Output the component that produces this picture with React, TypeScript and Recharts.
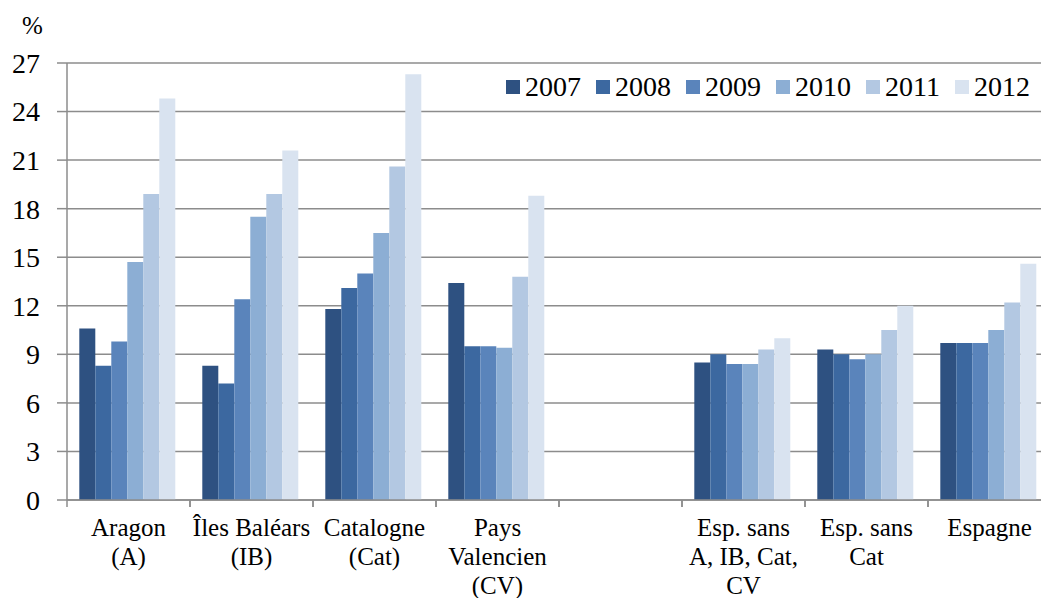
import React from "react";
import {
  BarChart,
  Bar,
  XAxis,
  YAxis,
  CartesianGrid,
  Legend,
  Label,
} from "recharts";

const categories = [
  "Aragon\n(A)",
  "Îles Baléars\n(IB)",
  "Catalogne\n(Cat)",
  "Pays\nValencien\n(CV)",
  "",
  "Esp. sans\nA, IB, Cat,\nCV",
  "Esp. sans\nCat",
  "Espagne",
];

const years = ["2007", "2008", "2009", "2010", "2011", "2012"];

const v2007 = [10.6, 8.3, 11.8, 13.4, null, 8.5, 9.3, 9.7];
const v2008 = [8.3, 7.2, 13.1, 9.5, null, 9.0, 9.0, 9.7];
const v2009 = [9.8, 12.4, 14.0, 9.5, null, 8.4, 8.7, 9.7];
const v2010 = [14.7, 17.5, 16.5, 9.4, null, 8.4, 9.0, 10.5];
const v2011 = [18.9, 18.9, 20.6, 13.8, null, 9.3, 10.5, 12.2];
const v2012 = [24.8, 21.6, 26.3, 18.8, null, 10.0, 12.0, 14.6];

const yTicks = [0, 3, 6, 9, 12, 15, 18, 21, 24, 27];

const colors = ["#2E5181", "#3C68A0", "#5A84BB", "#8CAED4", "#B3C8E2", "#D9E3F0"];

const seriesValues = [v2007, v2008, v2009, v2010, v2011, v2012];

const data = categories.map((cat, i) => {
  const row: Record<string, any> = { cat };
  years.forEach((y, k) => {
    row[y] = seriesValues[k][i];
  });
  return row;
});

const FONT = "Liberation Serif, Tinos, DejaVu Serif, Noto Serif, Times New Roman, serif";
const CHART_W = 1060;
const CHART_H = 598;
const M_LEFT = 0;
const Y_W = 67;
const M_RIGHT = 9;
const M_TOP = 63;
const X_H = 98;
const PLOT_BOTTOM = CHART_H - X_H;
const BAND = (CHART_W - M_LEFT - Y_W - M_RIGHT) / categories.length;
const GRID = "#8C8C8C";

function CategoryTick(props: any) {
  const { x, payload } = props;
  const lines = String(payload.value).split("\n");
  return (
    <g>
      <line x1={x - BAND / 2} x2={x - BAND / 2} y1={PLOT_BOTTOM} y2={PLOT_BOTTOM + 7} stroke={GRID} strokeWidth={1.5} />
      <line x1={x + BAND / 2} x2={x + BAND / 2} y1={PLOT_BOTTOM} y2={PLOT_BOTTOM + 7} stroke={GRID} strokeWidth={1.5} />
      <text x={x} y={PLOT_BOTTOM} textAnchor="middle" style={{ fontFamily: FONT }} fontSize={25} fill="#000">
        {lines.map((l, i) => (
          <tspan key={i} x={x} dy={i === 0 ? 36 : 29}>
            {l}
          </tspan>
        ))}
      </text>
    </g>
  );
}

function LegendContent() {
  return (
    <div style={{ display: "flex", alignItems: "center", fontFamily: FONT, fontSize: 28, color: "#000" }}>
      {years.map((y, i) => (
        <div key={y} style={{ display: "flex", alignItems: "center", marginRight: 15 }}>
          <span style={{ width: 14, height: 14, background: colors[i], display: "inline-block", marginRight: 5 }} />
          <span>{y}</span>
        </div>
      ))}
    </div>
  );
}

export default function App() {
  return (
    <div style={{ position: "fixed", left: 0, top: 0, width: 1041, height: 598, overflow: "hidden", background: "#fff", fontFamily: FONT }}>
      <BarChart
        width={CHART_W}
        height={CHART_H}
        data={data}
        margin={{ top: M_TOP, right: M_RIGHT, bottom: 0, left: M_LEFT }}
        barCategoryGap="10%"
        barGap={0}
        style={{ fontFamily: FONT }}
      >
        <CartesianGrid vertical={false} stroke={GRID} strokeWidth={1.5} />
        <XAxis
          dataKey="cat"
          height={X_H}
          interval={0}
          tickLine={false}
          axisLine={{ stroke: GRID, strokeWidth: 1.5 }}
          tick={<CategoryTick />}
        />
        <YAxis
          width={Y_W}
          domain={[0, 27]}
          ticks={yTicks}
          interval={0}
          tickSize={10}
          tickMargin={17}
          tickLine={{ stroke: GRID, strokeWidth: 1.5 }}
          axisLine={{ stroke: GRID, strokeWidth: 1.5 }}
          tick={{ fill: "#000", fontSize: 28, style: { fontFamily: FONT } }}
        >
          <Label value="%" position="top" offset={29} dx={-1} fill="#000" fontSize={25} style={{ fontFamily: FONT }} />
        </YAxis>
        <Legend
          layout="horizontal"
          verticalAlign="middle"
          align="center"
          wrapperStyle={{ top: 71, left: 506, width: 580 }}
          content={<LegendContent />}
        />
        {years.map((y, i) => (
          <Bar key={y} dataKey={y} fill={colors[i]} isAnimationActive={false} />
        ))}
      </BarChart>
    </div>
  );
}
